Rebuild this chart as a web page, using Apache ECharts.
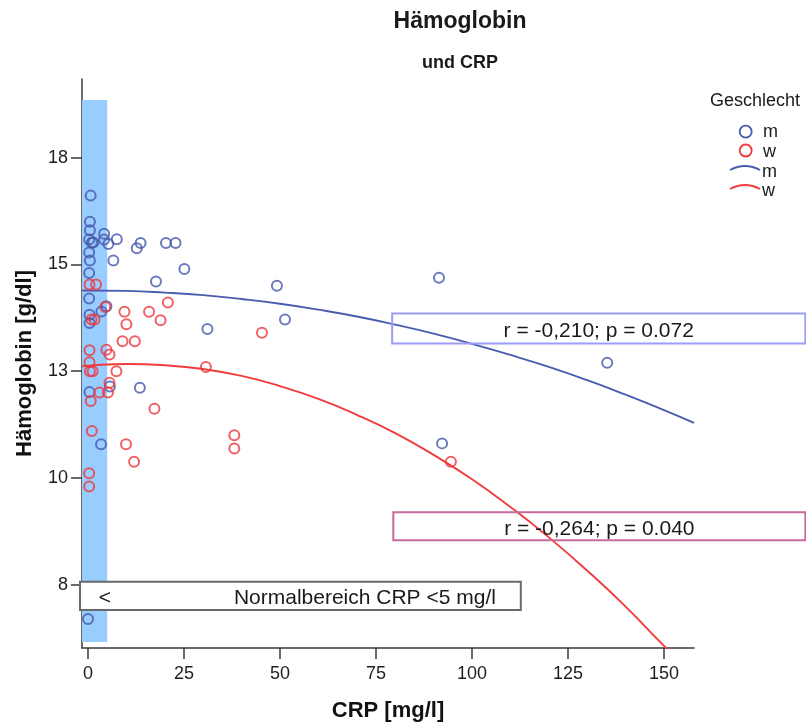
<!DOCTYPE html>
<html>
<head>
<meta charset="utf-8">
<script src="https://cdn.jsdelivr.net/npm/echarts@6/dist/echarts.min.js"></script>
<style>
html,body{margin:0;padding:0;background:#fff;}
#chart{width:806px;height:727px;}
</style>
</head>
<body>
<div id="chart"></div>
<script>
var FONT = '"Liberation Sans", Arial, sans-serif';

// Geschlecht m: [CRP, Hb]
var mPoints = [
  [0.7,17.11],[0.5,16.50],[0.5,16.30],[0.3,16.08],[1.0,16.01],[1.4,16.01],
  [4.2,16.22],[4.2,16.08],[5.3,15.98],[7.5,16.09],[12.7,15.88],[13.7,16.00],
  [20.3,16.00],[22.8,16.00],[0.3,15.78],[0.5,15.59],[6.6,15.59],[25.1,15.39],
  [0.3,15.30],[17.7,15.10],[49.2,15.00],[91.4,15.19],[0.3,14.70],[4.8,14.52],
  [3.5,14.40],[0.4,14.32],[0.4,14.13],[51.3,14.21],[31.1,13.99],[135.2,13.20],
  [5.7,12.64],[0.4,12.51],[13.5,12.61],[92.2,11.31],[3.4,11.29],[0.0,7.20]
];
// Geschlecht w
var wPoints = [
  [0.4,15.03],[2.1,15.03],[20.8,14.61],[4.5,14.50],[9.5,14.39],[15.9,14.39],
  [0.9,14.21],[1.7,14.21],[18.9,14.19],[10.0,14.10],[45.3,13.90],[9.0,13.70],
  [12.2,13.70],[0.4,13.49],[4.8,13.50],[5.6,13.39],[0.4,13.21],[0.5,13.00],
  [1.2,13.00],[7.4,13.00],[30.7,13.10],[5.6,12.73],[3.0,12.50],[5.2,12.50],
  [0.7,12.30],[17.3,12.12],[1.0,11.60],[9.9,11.29],[12.0,10.88],[38.1,11.50],
  [38.1,11.19],[0.3,10.61],[0.3,10.30],[94.5,10.88]
];
// quadratic fit lines
var mCurve = [
  [-1.5,14.89],[0,14.89],[10,14.88],[20,14.84],[30,14.78],[40,14.69],[50,14.58],
  [60,14.44],[70,14.28],[80,14.09],[90,13.88],[100,13.64],[110,13.38],[120,13.10],
  [130,12.79],[140,12.45],[150,12.09],[157.8,11.79]
];
var wCurve = [
  [-1.5,13.11],[0,13.13],[10,13.17],[20,13.14],[30,13.05],[40,12.89],[50,12.65],
  [60,12.35],[70,11.98],[80,11.55],[90,11.04],[100,10.47],[110,9.82],[120,9.11],
  [130,8.33],[140,7.49],[150,6.57],[152,6.42]
];

var X_TICKS = [0, 25, 50, 75, 100, 125, 150];
var Y_TICKS = [8, 10.5, 13, 15.5, 18];
var Y_TICK_LABELS = ['8', '10', '13', '15', '18'];
var X_RANGE = [-1.56, 157.8];
var Y_RANGE = [6.52, 19.84];
var BAND_X = [-1.56, 5];
var BAND_Y = [6.66, 19.35];

// annotation boxes: [x0, y0, x1, y1] in data units
var BOX_M = [79.2, 13.65, 186.8, 14.35];
var BOX_W = [79.5, 9.04, 186.8, 9.70];
var BOX_NORM = [-2.08, 7.41, 112.7, 8.07];
var TEXT_M = 'r = -0,210; p = 0.072';
var TEXT_W = 'r = -0,264; p = 0.040';
var TEXT_NORM_ARROW = '<';
var TEXT_NORM = 'Normalbereich CRP <5 mg/l';

var BLUE = '#4658ac';
var RED = '#ec3a3f';

var chart = echarts.init(document.getElementById('chart'));

var option = {
  animation: false,
  grid: {left: 82, top: 79, right: 112, bottom: 78},
  xAxis: {
    type: 'value',
    min: X_RANGE[0],
    max: X_RANGE[1],
    name: 'CRP [mg/l]',
    nameLocation: 'middle',
    nameGap: 52,
    nameTextStyle: {fontFamily: FONT, fontWeight: 'bold', fontSize: 22, color: '#111'},
    axisLine: {show: true, onZero: false, lineStyle: {color: '#3a3a3a', width: 1.5}},
    axisTick: {show: true, length: 11, customValues: X_TICKS, lineStyle: {color: '#3a3a3a', width: 1.5}},
    axisLabel: {customValues: X_TICKS, margin: 17, fontFamily: FONT, fontSize: 18, color: '#1e1e1e'},
    splitLine: {show: false}
  },
  yAxis: {
    type: 'value',
    min: Y_RANGE[0],
    max: Y_RANGE[1],
    name: 'Hämoglobin [g/dl]',
    nameLocation: 'middle',
    nameGap: 46,
    nameTextStyle: {fontFamily: FONT, fontWeight: 'bold', fontSize: 22, color: '#111'},
    axisLine: {show: true, onZero: false, lineStyle: {color: '#3a3a3a', width: 1.5}},
    axisTick: {show: true, length: 11, customValues: Y_TICKS, lineStyle: {color: '#3a3a3a', width: 1.5}},
    axisLabel: {
      customValues: Y_TICKS, margin: 14, fontFamily: FONT, fontSize: 18, color: '#1e1e1e',
      formatter: function (v) {
        var i = Y_TICKS.indexOf(v);
        return i >= 0 ? Y_TICK_LABELS[i] : '';
      }
    },
    splitLine: {show: false}
  },
  series: [
    {
      name: 'band', type: 'scatter', data: [], z: 1, silent: true,
      markArea: {
        silent: true,
        itemStyle: {color: '#99ccff', opacity: 1},
        data: [[{xAxis: BAND_X[0], yAxis: BAND_Y[0]}, {xAxis: BAND_X[1], yAxis: BAND_Y[1]}]]
      }
    },
    {
      name: 'm fit', type: 'line', data: mCurve, smooth: true, showSymbol: false, z: 3,
      lineStyle: {color: '#4a5cb0', width: 1.9}
    },
    {
      name: 'w fit', type: 'line', data: wCurve, smooth: true, showSymbol: false, z: 3,
      lineStyle: {color: '#f03c3c', width: 1.9}
    },
    {
      name: 'm', type: 'scatter', data: mPoints, symbol: 'circle', symbolSize: 10, z: 4,
      itemStyle: {color: 'rgba(0,0,0,0)', borderColor: BLUE, borderWidth: 2}
    },
    {
      name: 'w', type: 'scatter', data: wPoints, symbol: 'circle', symbolSize: 10, z: 4,
      itemStyle: {color: 'rgba(0,0,0,0)', borderColor: RED, borderWidth: 2}
    }
  ]
};
chart.setOption(option);

function px(x, y) {
  return chart.convertToPixel({gridIndex: 0}, [x, y]);
}
function boxRect(b, stroke, fill, lw) {
  var p0 = px(b[0], b[3]);
  var p1 = px(b[2], b[1]);
  return {
    type: 'rect', z: 20,
    shape: {x: p0[0], y: p0[1], width: p1[0] - p0[0], height: p1[1] - p0[1]},
    style: {fill: fill, stroke: stroke, lineWidth: lw}
  };
}
function label(x, y, text, size, weight, align) {
  return {
    type: 'text', z: 21, x: x, y: y,
    style: {
      text: text, fill: '#1a1a1a', font: (weight || 'normal') + ' ' + size + 'px ' + FONT,
      align: align || 'center', verticalAlign: 'middle'
    }
  };
}

var bm = px((BOX_M[0] + 186.8) / 2, (BOX_M[1] + BOX_M[3]) / 2);
var bw = px((BOX_W[0] + 186.8) / 2, (BOX_W[1] + BOX_W[3]) / 2);
var bnArrow = px(4.4, (BOX_NORM[1] + BOX_NORM[3]) / 2);
var bnText = px(72.1, (BOX_NORM[1] + BOX_NORM[3]) / 2);

var graphics = [
  boxRect(BOX_M, '#9c9cf5', 'transparent', 2),
  boxRect(BOX_W, '#c96a9c', 'transparent', 2),
  boxRect(BOX_NORM, '#6a6a6a', '#ffffff', 2),
  label(bm[0], bm[1] + 3, TEXT_M, 21),
  label(bw[0], bw[1] + 3, TEXT_W, 21),
  label(bnArrow[0], bnArrow[1] + 2, TEXT_NORM_ARROW, 21),
  label(bnText[0], bnText[1] + 2, TEXT_NORM, 21),
  // titles
  label(460, 22, 'Hämoglobin', 23, 'bold'),
  label(460, 63, 'und CRP', 18, 'bold'),
  // legend
  label(755, 101, 'Geschlecht', 18),
  {type: 'circle', z: 21, shape: {cx: 745.7, cy: 131.7, r: 6}, style: {fill: 'none', stroke: BLUE, lineWidth: 1.8}},
  label(763, 132, 'm', 18, 'normal', 'left'),
  {type: 'circle', z: 21, shape: {cx: 745.7, cy: 150.5, r: 6}, style: {fill: 'none', stroke: RED, lineWidth: 1.8}},
  label(763, 152, 'w', 18, 'normal', 'left'),
  {type: 'bezierCurve', z: 21, shape: {x1: 730, y1: 170, x2: 760, y2: 170, cpx1: 745, cpy1: 162},
    style: {fill: 'none', stroke: '#4a5cb0', lineWidth: 1.9}},
  label(762, 172, 'm', 18, 'normal', 'left'),
  {type: 'bezierCurve', z: 21, shape: {x1: 730, y1: 189, x2: 760, y2: 189, cpx1: 745, cpy1: 181},
    style: {fill: 'none', stroke: '#f03c3c', lineWidth: 1.9}},
  label(762, 191, 'w', 18, 'normal', 'left')
];
chart.setOption({graphic: {elements: graphics}});
</script>
</body>
</html>
